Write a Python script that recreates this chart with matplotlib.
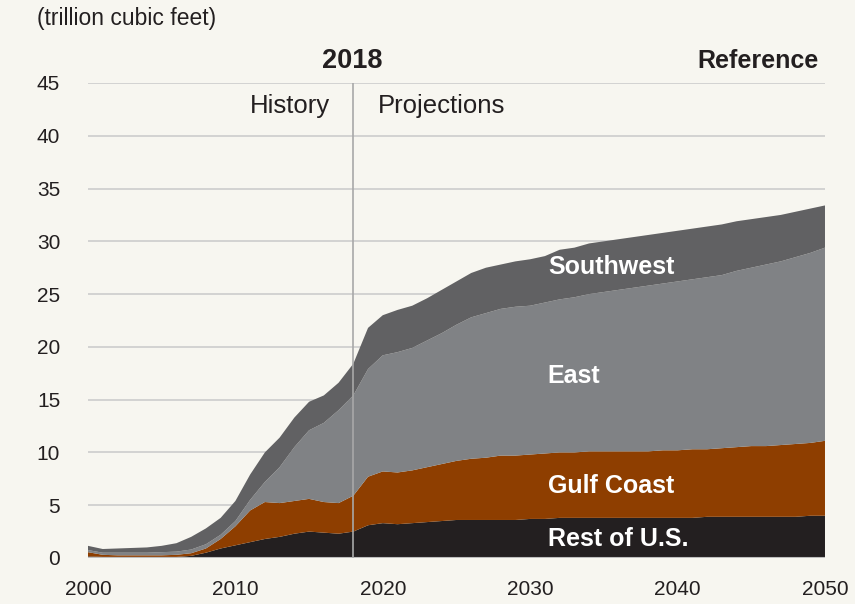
import numpy as np
import matplotlib
matplotlib.use("Agg")
import matplotlib.pyplot as plt

plt.rcParams["font.family"] = ["Liberation Sans", "DejaVu Sans"]

years = list(range(2000, 2051))

rest_of_us = [0.15, 0.1, 0.1, 0.1, 0.1, 0.1, 0.1, 0.2, 0.5, 0.9,
              1.2, 1.5, 1.8, 2.0, 2.3, 2.5, 2.4, 2.3, 2.5, 3.1,
              3.3, 3.2, 3.3, 3.4, 3.5, 3.6, 3.6, 3.6, 3.6, 3.6,
              3.7, 3.7, 3.8, 3.8, 3.8, 3.8, 3.8, 3.8, 3.8, 3.8,
              3.8, 3.8, 3.9, 3.9, 3.9, 3.9, 3.9, 3.9, 3.9, 4.0, 4.0]
gulf_coast = [0.4, 0.2, 0.15, 0.15, 0.15, 0.15, 0.2, 0.25, 0.4, 0.9,
              1.8, 3.0, 3.5, 3.2, 3.1, 3.1, 2.9, 2.9, 3.4, 4.6,
              4.9, 4.9, 5.0, 5.2, 5.4, 5.6, 5.8, 5.9, 6.1, 6.1,
              6.1, 6.2, 6.2, 6.2, 6.3, 6.3, 6.3, 6.3, 6.3, 6.4,
              6.4, 6.5, 6.4, 6.5, 6.6, 6.7, 6.7, 6.8, 6.9, 6.9, 7.1]
east = [0.2, 0.2, 0.25, 0.25, 0.25, 0.3, 0.3, 0.35, 0.4, 0.4,
        0.5, 1.0, 1.9, 3.4, 5.1, 6.5, 7.5, 8.8, 9.5, 10.2,
        11.0, 11.4, 11.6, 12.0, 12.4, 12.9, 13.4, 13.7, 13.9, 14.1,
        14.1, 14.3, 14.5, 14.7, 14.9, 15.1, 15.3, 15.5, 15.7, 15.8,
        16.0, 16.1, 16.3, 16.4, 16.7, 16.9, 17.2, 17.4, 17.7, 18.0, 18.3]
southwest = [0.4, 0.35, 0.4, 0.45, 0.5, 0.6, 0.8, 1.2, 1.5, 1.6,
             1.9, 2.4, 2.8, 2.8, 2.8, 2.7, 2.6, 2.6, 3.0, 3.9,
             3.8, 4.0, 4.0, 4.0, 4.1, 4.1, 4.2, 4.3, 4.2, 4.3,
             4.4, 4.4, 4.7, 4.7, 4.8, 4.8, 4.8, 4.8, 4.8, 4.8,
             4.8, 4.8, 4.8, 4.8, 4.7, 4.6, 4.5, 4.4, 4.3, 4.2, 4.0]

series_labels = ["Rest of U.S.", "Gulf Coast", "East", "Southwest"]
colors = ["#231f20", "#8e3e00", "#808285", "#616163"]
label_y = {"Rest of U.S.": 1.8, "Gulf Coast": 6.8, "East": 17.2, "Southwest": 27.6}
LABEL_X = 2031.2

BG = "#f7f6f0"
fig = plt.figure(figsize=(8.55, 6.04), dpi=100, facecolor=BG)
ax = fig.add_axes([0.1029, 0.0762, 0.8620, 0.7864], facecolor=BG)

ax.stackplot(years, rest_of_us, gulf_coast, east, southwest,
             colors=colors, linewidth=0, zorder=2)

for y in range(5, 50, 5):
    ax.axhline(y, color="#c9c9c9", lw=1.1, zorder=1)
ax.axhline(0, color="#bdbdbd", lw=1.5, zorder=3)
ax.axvline(2018, color="#a8a8a8", lw=1.2, zorder=4)

for name in series_labels:
    ax.text(LABEL_X, label_y[name], name, color="white", fontsize=18,
            fontweight="bold", ha="left", va="center", zorder=5)

ax.set_xlim(2000, 2050)
ax.set_ylim(0, 45)
ax.set_xticks(range(2000, 2051, 10))
ax.set_yticks(range(0, 46, 5))
ax.tick_params(length=0, labelsize=15, colors="#231f20")
ax.tick_params(axis="y", pad=20)
ax.tick_params(axis="x", pad=16)
for s in ax.spines.values():
    s.set_visible(False)

ax.text(2016.4, 42.8, "History", fontsize=18.5, ha="right", va="center", color="#231f20")
ax.text(2019.7, 42.8, "Projections", fontsize=18.5, ha="left", va="center", color="#231f20")
fig.text(0.412, 0.899, "2018", fontsize=19.5, fontweight="bold", ha="center", va="center", color="#231f20")
fig.text(0.957, 0.899, "Reference", fontsize=18, fontweight="bold", ha="right", va="center", color="#231f20")
fig.text(0.043, 0.970, "(trillion cubic feet)", fontsize=16.5, ha="left", va="center", color="#231f20")

fig.savefig("out.png", dpi=100, facecolor=BG)
